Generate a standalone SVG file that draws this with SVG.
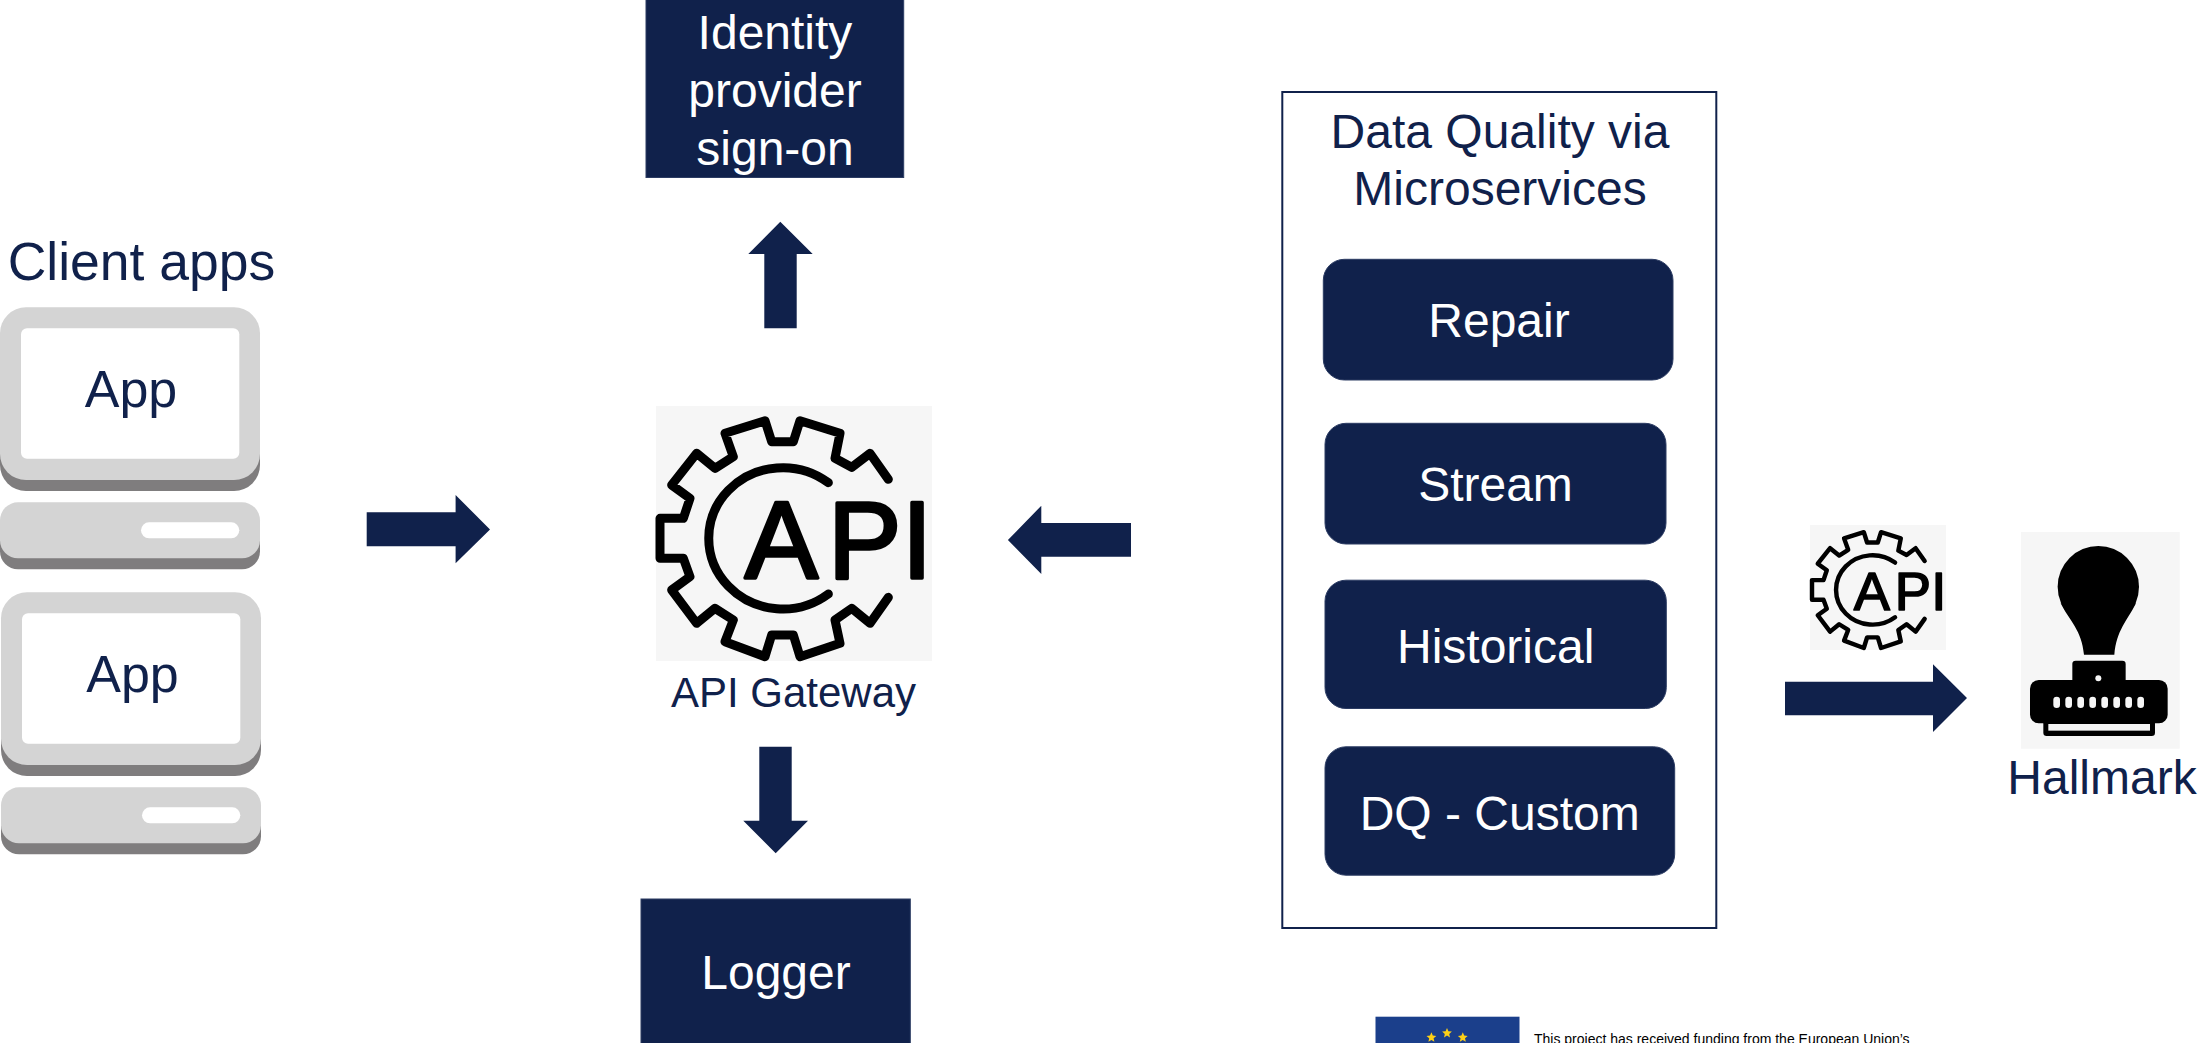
<svg xmlns="http://www.w3.org/2000/svg" width="2203" height="1043" viewBox="0 0 2203 1043">
  <style>
    text { font-family: "Liberation Sans", Arial, sans-serif; }
    .navy { fill: #10214b; }
    .box { fill: #10214b; stroke: #2c3c63; stroke-width: 1; }
    .wl { fill: #ffffff; font-size: 48px; text-anchor: middle; }
    .nl { fill: #10214b; font-size: 48px; text-anchor: middle; }
    .icon-bg { fill: #f6f6f6; }
    .gear { fill: none; stroke: #000000; stroke-width: 27; stroke-linecap: round; stroke-linejoin: round; }
    .api { fill: #000000; stroke: #000000; stroke-width: 10; stroke-linejoin: round; font-size: 330px; }
    .lite { fill: #d4d4d4; }
    .dark { fill: #7f7d7e; }
    .wht { fill: #ffffff; }
    .soft { filter: url(#soft); }
  </style>
  <defs>
    <filter id="soft" x="-5%" y="-5%" width="110%" height="110%">
      <feGaussianBlur stdDeviation="0.7"/>
    </filter>
    <g id="gear-shape">
      <path class="gear" d="M775 268L720 190L665 232L615 205L630 130L510 92L490 155L425 155L405 92L285 130L310 200L255 235L200 190L125 285L180 325L160 385L90 385L90 505L160 505L180 560L125 600L200 700L255 655L310 690L285 755L405 800L425 735L490 735L510 800L630 760L615 690L665 655L720 700L775 622"/>
      <path class="gear" d="M595 278A222 212 0 1 0 595 612"/>
    </g>
    <g id="computer" class="soft">
      <rect class="dark" x="0" y="318" width="260" height="173" rx="26"/>
      <rect class="lite" x="0" y="307.300" width="260" height="172.700" rx="26"/>
      <rect class="wht" x="21" y="328.300" width="218.300" height="130.400" rx="6"/>
      <rect class="dark" x="0" y="513" width="260" height="56.300" rx="18"/>
      <rect class="lite" x="0" y="502.300" width="260" height="56" rx="18"/>
      <rect class="wht" x="141" y="522.300" width="98.300" height="16" rx="8"/>
    </g>
  </defs>

  <g id="connectors">
    <path id="arrow-client-gateway" class="navy" d="M366.700 512.300H455.600V495L490 529.500L455.600 563.300V546.300H366.700Z"/>
    <path id="arrow-gateway-identity" class="navy" d="M764.300 328.300V254H748.300L780.300 221.700L812.700 254H796.700V328.300Z"/>
    <path id="arrow-gateway-logger" class="navy" d="M759.300 746.700H791.700V820.700H808L775.700 853.300L743.300 820.700H759.300Z"/>
    <path id="arrow-dq-gateway" class="navy" d="M1131 523H1041.300V505.700L1007.900 540L1041.300 574V556.700H1131Z"/>
    <path id="arrow-dq-hallmark" class="navy" d="M1785 681.700H1933V664.300L1967 698L1933 732V715.300H1785Z"/>
  </g>

  <g id="node-client-apps">
    <text x="141.500" y="280" class="nl" style="font-size:53.500px">Client apps</text>
    <g id="app-1">
      <use href="#computer"/>
      <text x="131" y="407.300" class="nl" style="font-size:52px">App</text>
    </g>
    <g id="app-2">
      <use href="#computer" transform="translate(1 285)"/>
      <text x="132.500" y="692" class="nl" style="font-size:52px">App</text>
    </g>
  </g>

  <g id="node-identity">
    <rect class="box" x="646" y="-2" width="257.700" height="179.500"/>
    <text x="775" y="49" class="wl">Identity</text>
    <text x="775" y="107" class="wl">provider</text>
    <text x="775" y="165" class="wl">sign-on</text>
  </g>

  <g id="node-gateway">
    <rect class="icon-bg" x="656" y="406" width="276" height="255"/>
    <g transform="translate(630 390) scale(.33333)" class="soft">
      <use href="#gear-shape"/>
      <text class="api" x="344 594 815" y="565">API</text>
    </g>
    <text x="793.500" y="706.700" class="nl" style="font-size:42px">API Gateway</text>
  </g>

  <g id="node-logger">
    <rect class="box" x="641" y="899" width="269.300" height="150"/>
    <text x="776" y="988.500" class="wl">Logger</text>
  </g>

  <g id="node-data-quality">
    <rect x="1282.300" y="92" width="434" height="836" fill="#ffffff" stroke="#10214b" stroke-width="2"/>
    <text x="1500" y="148.300" class="nl">Data Quality via</text>
    <text x="1500" y="205" class="nl">Microservices</text>
    <g id="node-repair">
      <rect class="box" x="1323.300" y="259.300" width="349.700" height="120.700" rx="21"/>
      <text x="1499" y="337" class="wl">Repair</text>
    </g>
    <g id="node-stream">
      <rect class="box" x="1325" y="423.300" width="341" height="120.700" rx="21"/>
      <text x="1495.500" y="501.300" class="wl">Stream</text>
    </g>
    <g id="node-historical">
      <rect class="box" x="1325" y="580.200" width="341.300" height="128.300" rx="21"/>
      <text x="1495.700" y="662.800" class="wl">Historical</text>
    </g>
    <g id="node-custom">
      <rect class="box" x="1325" y="746.800" width="349.700" height="128.400" rx="21"/>
      <text x="1499.700" y="829.500" class="wl">DQ - Custom</text>
    </g>
  </g>

  <g id="node-api-small">
    <rect class="icon-bg" x="1810" y="525" width="136" height="125"/>
    <g transform="translate(1797.200 517.100) scale(.16445 .1636)" class="soft">
      <use href="#gear-shape"/>
      <text class="api" x="344 594 815" y="565">API</text>
    </g>
  </g>

  <g id="node-hallmark">
    <rect class="icon-bg" x="2021" y="532" width="158.700" height="216.700"/>
    <g transform="translate(1780 500) scale(.33333)" class="soft">
      <circle cx="955" cy="260" r="122" fill="#000"/>
      <path fill="#000" d="M842 310C870 365 905 390 912 464H1003C1010 390 1040 365 1068 310Z"/>
      <rect x="877" y="482" width="160" height="80" rx="10" fill="#000"/>
      <rect x="750" y="540" width="413" height="130" rx="26" fill="#000"/>
      <circle cx="955" cy="535" r="9" fill="#f6f6f6"/>
      <g fill="#f6f6f6">
        <rect x="820" y="590" width="20" height="34" rx="10"/>
        <rect x="856" y="590" width="20" height="34" rx="10"/>
        <rect x="892" y="590" width="20" height="34" rx="10"/>
        <rect x="928" y="590" width="20" height="34" rx="10"/>
        <rect x="964" y="590" width="20" height="34" rx="10"/>
        <rect x="1000" y="590" width="20" height="34" rx="10"/>
        <rect x="1036" y="590" width="20" height="34" rx="10"/>
        <rect x="1072" y="590" width="20" height="34" rx="10"/>
      </g>
      <rect x="790" y="660" width="335" height="48" rx="10" fill="#000"/>
      <rect x="805" y="672" width="305" height="20" fill="#f6f6f6"/>
    </g>
    <text x="2102" y="794" class="nl">Hallmark</text>
  </g>

  <g id="eu-notice">
    <rect x="1375.500" y="1016.700" width="144" height="30" fill="#1b3f8b"/>
    <g fill="#fdd017">
      <path d="M1447 1028l1.400 3.300 3.500.3-2.700 2.300.8 3.500-3-1.800-3 1.800.8-3.500-2.700-2.300 3.500-.3z"/>
      <path d="M1431.400 1032.300l1.400 3.300 3.500.3-2.700 2.300.8 3.500-3-1.800-3 1.800.8-3.500-2.700-2.300 3.500-.3z"/>
      <path d="M1462.800 1032.300l1.400 3.300 3.500.3-2.700 2.300.8 3.500-3-1.800-3 1.800.8-3.500-2.700-2.300 3.500-.3z"/>
    </g>
    <text x="1534" y="1044" fill="#000" style="font-size:14px">This project has received funding from the European Union’s</text>
  </g>
</svg>
